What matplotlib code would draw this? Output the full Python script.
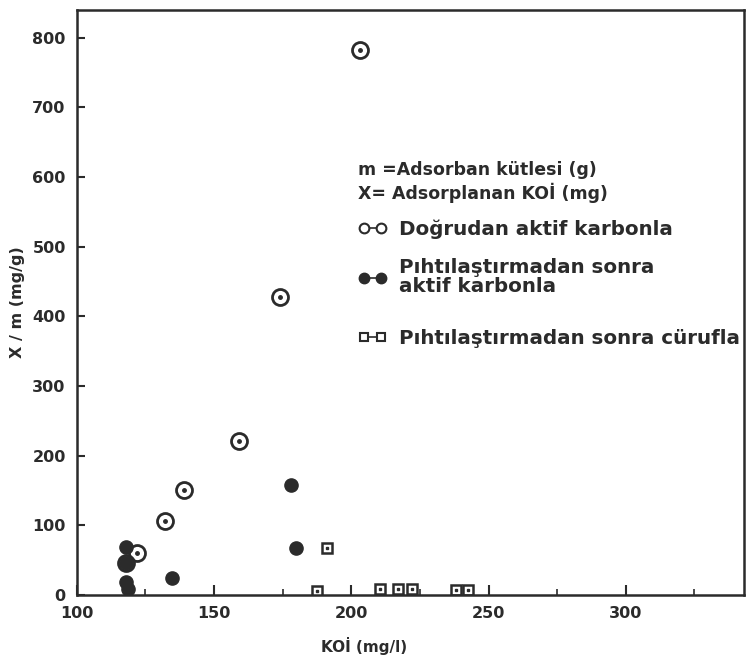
import matplotlib
matplotlib.use("Agg")
import matplotlib.pyplot as plt
from matplotlib.lines import Line2D
from matplotlib.ticker import MultipleLocator

# Doğrudan aktif karbonla (open circles with centre dot)
koi_direct = [203, 174, 159, 139, 132, 122, 118]
xm_direct = [783, 428, 221, 151, 106, 60, 46]

# Pıhtılaştırmadan sonra aktif karbonla (filled circles)
koi_coag_ac = [118, 118, 118, 118.5, 134.5, 178, 180]
xm_coag_ac = [69, 46, 19, 9, 24, 158, 68]

# Pıhtılaştırmadan sonra cürufla (small squares)
koi_coag_slag = [191, 187.5, 210.5, 217, 222, 238, 242.5]
xm_coag_slag = [68, 6, 9, 9, 9, 7, 7]

labels = ["Doğrudan aktif karbonla",
          "Pıhtılaştırmadan sonra\naktif karbonla",
          "Pıhtılaştırmadan sonra cürufla"]

ink = "#2b2b2b"
plt.rcParams['font.family'] = ['DejaVu Sans']

fig = plt.figure(figsize=(7.46, 6.61), dpi=100)
ax = fig.add_axes([0.103, 0.1, 0.894, 0.885])

ax.plot(koi_direct, xm_direct, 'o', ms=11.5, mfc='white', mec=ink, mew=2, ls='none')
ax.plot(koi_direct, xm_direct, 'o', ms=2.5, color=ink, ls='none')
ax.plot(koi_coag_ac, xm_coag_ac, 'o', ms=9.5, color=ink, ls='none')
ax.plot(koi_coag_slag, xm_coag_slag, 's', ms=6.5, mfc='white', mec=ink, mew=1.8, ls='none')
ax.plot(koi_coag_slag, xm_coag_slag, 's', ms=1.8, color=ink, ls='none')

ax.set_xlim(100, 343)
ax.set_ylim(0, 840)
ax.xaxis.set_major_locator(MultipleLocator(50))
ax.xaxis.set_minor_locator(MultipleLocator(25))
ax.yaxis.set_major_locator(MultipleLocator(100))
ax.tick_params(which='major', direction='in', length=7, width=1.5, colors=ink,
               labelsize=11.5, pad=8)
ax.tick_params(which='minor', direction='in', length=4, width=1.2, colors=ink)
ax.tick_params(axis='y', which='major', length=6)
for lab in ax.get_xticklabels() + ax.get_yticklabels():
    lab.set_fontweight('bold')
for s in ax.spines.values():
    s.set_linewidth(1.8)
    s.set_color(ink)

ax.set_xlabel("KOİ (mg/l)", fontsize=11, fontweight='bold', color=ink)
ax.xaxis.set_label_coords(0.43, -0.072)
ax.set_ylabel("X / m (mg/g)", fontsize=11.5, fontweight='bold', color=ink)
ax.yaxis.set_label_coords(-0.078, 0.5)

ax.text(0.421, 0.726, "m =Adsorban kütlesi (g)", transform=ax.transAxes,
        fontsize=12.5, fontweight='bold', color=ink, va='center')
ax.text(0.421, 0.687, "X= Adsorplanan KOİ (mg)", transform=ax.transAxes,
        fontsize=12.5, fontweight='bold', color=ink, va='center')

h1 = Line2D([], [], color=ink, lw=1.2, marker='o', ms=7, mfc='white', mec=ink, mew=1.5)
h2 = Line2D([], [], color=ink, lw=1.2, marker='o', ms=7.5, mfc=ink, mec=ink)
h3 = Line2D([], [], color=ink, lw=1.2, marker='s', ms=6, mfc='white', mec=ink, mew=1.5)
legkw = dict(frameon=False, borderpad=0, borderaxespad=0, numpoints=2,
             handlelength=1.5, handletextpad=0.6,
             prop={'size': 14.3, 'weight': 'bold'})
leg1 = ax.legend([h1, h2], labels[:2], loc='upper left',
                 bbox_to_anchor=(0.421, 0.642), labelspacing=0.95, **legkw)
ax.add_artist(leg1)
leg2 = ax.legend([h3], labels[2:], loc='center left',
                 bbox_to_anchor=(0.421, 0.439), **legkw)
for lg in (leg1, leg2):
    for t in lg.get_texts():
        t.set_color(ink)
        t.set_linespacing(1.05)

fig.savefig("out.png", dpi=100)
